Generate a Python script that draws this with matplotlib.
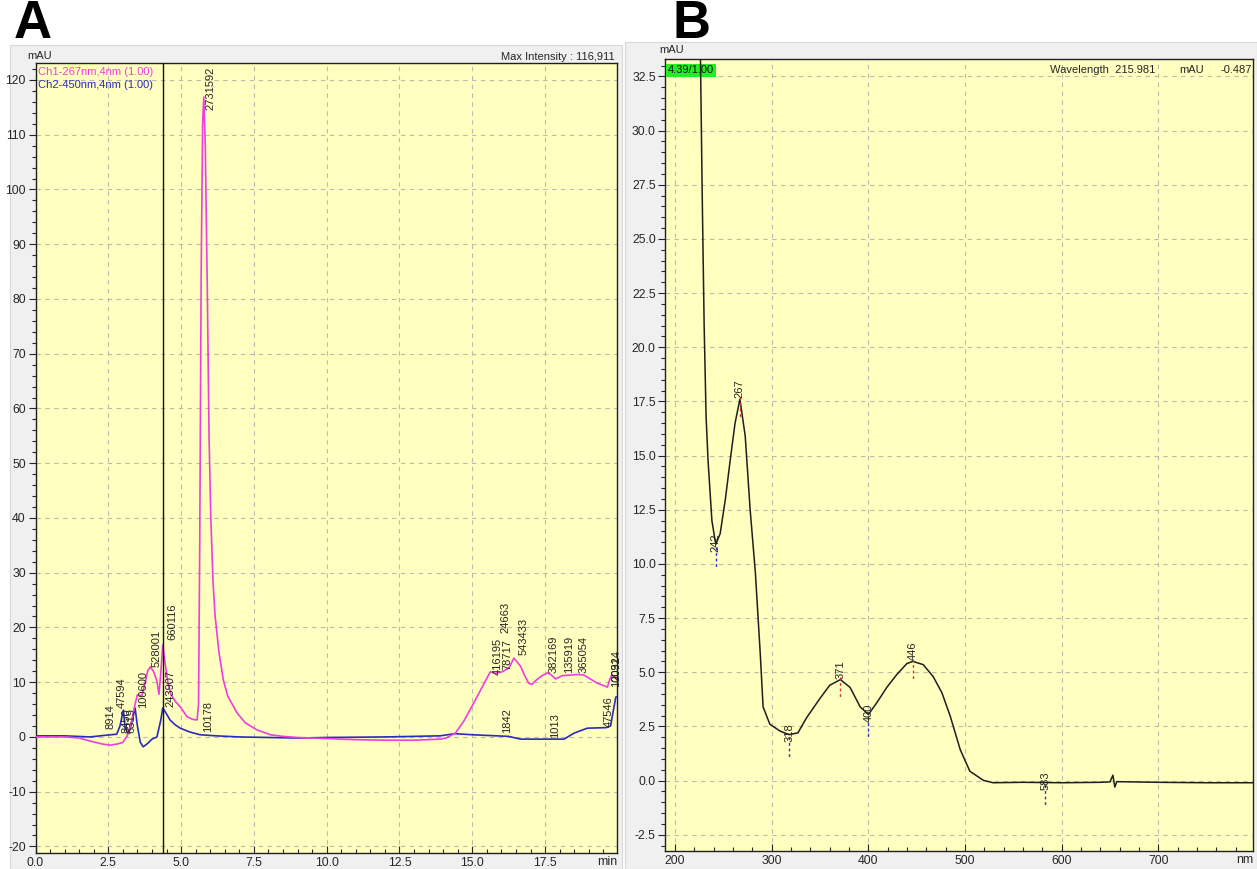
import matplotlib.pyplot as plt
from matplotlib.patches import Rectangle
from matplotlib.ticker import MultipleLocator, FormatStrFormatter
import numpy as np

plt.rcParams['font.family'] = ['Liberation Sans', 'DejaVu Sans']
plt.rcParams['axes.unicode_minus'] = False

W, H = 1257, 869

# --- chromatogram (panel A) ---
ch1_t = [0.0, 1.0, 1.5, 1.9, 2.3, 2.56, 2.8, 3.0, 3.15, 3.31, 3.42, 3.5, 3.65, 3.75, 3.85,
         3.94, 4.05, 4.17, 4.24, 4.3, 4.37, 4.45, 4.55, 4.65, 4.8, 4.97, 5.1, 5.2, 5.4, 5.55,
         5.6, 5.64, 5.69, 5.74, 5.78, 5.83, 5.9, 5.96, 6.02, 6.1, 6.17, 6.3, 6.45, 6.6, 6.92,
         7.2, 7.6, 8.06, 8.5, 9.0, 9.5, 10.0, 11.0, 12.0, 13.0, 13.9, 14.1, 14.42, 14.7, 15.05,
         15.35, 15.62, 15.8, 16.03, 16.26, 16.43, 16.66, 16.8, 16.94, 17.05, 17.2, 17.4, 17.58,
         17.72, 17.86, 18.1, 18.38, 18.6, 18.83, 19.05, 19.3, 19.5, 19.64, 19.72, 19.8, 19.9, 20.0]
ch1_mau = [0.0, 0.0, -0.2, -0.8, -1.3, -1.5, -1.3, -1.0, 0.2, 3.1, 6.0, 7.7, 7.5, 9.5, 12.0,
           12.8, 12.0, 10.2, 7.8, 11.5, 16.8, 13.5, 9.8, 7.8, 6.5, 5.5, 4.5, 3.7, 3.2, 3.1,
           6.0, 35.0, 85.0, 112.0, 116.9, 108.0, 82.0, 55.0, 40.0, 28.0, 22.0, 15.5, 10.4, 7.5, 4.4,
           2.6, 1.3, 0.4, 0.1, -0.1, -0.2, -0.3, -0.5, -0.6, -0.6, -0.4, -0.2, 0.7, 2.8, 6.2,
           9.2, 11.9, 11.6, 11.9, 12.6, 14.4, 12.9, 11.2, 9.8, 9.6, 10.4, 11.2, 11.7,
           11.3, 10.6, 11.2, 11.3, 11.4, 11.3, 10.6, 9.8, 9.4, 9.1, 10.5, 11.4, 10.8, 10.5]

ch2_t = [0.0, 1.0, 1.87, 2.4, 2.79, 2.9, 3.02, 3.08, 3.2, 3.3, 3.42, 3.5, 3.6, 3.7, 3.85,
         4.0, 4.17, 4.3, 4.37, 4.5, 4.62, 4.8, 4.97, 5.3, 5.65, 6.2, 7.0, 8.0, 9.0, 10.0,
         12.0, 13.9, 14.4, 15.0, 16.25, 16.66, 18.15, 18.5, 18.95, 19.6, 19.75, 19.85, 19.93, 20.0]
ch2_mau = [0.2, 0.2, 0.0, 0.3, 0.5, 2.0, 4.9, 1.5, 0.6, 2.5, 5.3, 2.0, -1.0, -1.8, -1.2,
           -0.4, 0.0, 3.0, 5.3, 4.2, 3.1, 2.2, 1.6, 0.9, 0.4, 0.2, 0.0, -0.1, -0.2, -0.1,
           0.0, 0.2, 0.6, 0.4, 0.1, -0.4, -0.4, 0.7, 1.6, 1.7, 2.0, 5.0, 7.3, 7.3]

# peak area labels: (time, base of text, area)
peak_labels = [
    (2.56, 1.5, '8914'), (2.97, 5.3, '47594'), (3.11, 0.7, '8450'), (3.28, 0.8, '6319'),
    (3.70, 5.3, '100600'), (4.17, 12.8, '528001'), (4.70, 17.7, '660116'),
    (4.63, 5.5, '243907'), (5.93, 0.9, '10178'), (6.00, 114.6, '2731592'),
    (15.87, 11.3, '416195'), (16.20, 12.2, '78717'), (16.15, 19.0, '24663'),
    (16.76, 15.0, '543433'), (17.80, 11.7, '382169'), (18.31, 11.7, '135919'),
    (18.83, 11.7, '365054'), (16.20, 0.7, '1842'), (17.86, -0.2, '1013'),
    (19.69, 1.8, '47546'), (19.93, 9.1, '100924'), (19.96, 10.2, '2031'),
]

cursor_time = 4.39

# --- spectrum (panel B) ---
wl_nm = [224, 226, 228, 230, 232, 234, 238, 242, 246.6, 252, 257, 262, 267, 272.5, 277.6,
         283, 288, 291, 298, 308.7, 318, 327, 336, 350, 360, 371, 381, 391.5, 400, 408.8,
         419, 429.5, 439.8, 446, 456.7, 467, 476, 484.7, 495, 505, 519, 529, 560, 600, 640,
         650, 653, 655, 657, 700, 750, 800]
spec_mau = [40, 34, 27, 21, 16.8, 14.8, 12.0, 10.9, 11.4, 13.0, 14.8, 16.5, 17.6, 15.9, 12.5,
            9.6, 5.9, 3.4, 2.6, 2.28, 2.12, 2.2, 2.9, 3.8, 4.4, 4.66, 4.3, 3.4, 3.05, 3.6,
            4.3, 4.9, 5.4, 5.5, 5.35, 4.8, 4.06, 2.97, 1.43, 0.43, 0.01, -0.1, -0.08, -0.1, -0.08,
            -0.06, 0.25, -0.3, -0.05, -0.08, -0.1, -0.1]

spec_peaks = [242, 267, 318, 371, 400, 446, 583]
spec_kind = ['min', 'max', 'min', 'max', 'min', 'max', 'min']

YELLOW = '#ffffc0'
GRID = '#bcbcaa'
GRAY = '#f0f0f0'
TXT = '#262626'


def fx(x):
    return x / W


def fy(y):
    return 1 - y / H


fig = plt.figure(figsize=(W / 100, H / 100), dpi=100)
fig.patch.set_facecolor('white')

# window backgrounds, kept behind the axes
fig.patches.append(Rectangle((fx(10), 0), fx(612), fy(45), transform=fig.transFigure,
                             facecolor=GRAY, edgecolor='#d8d8d8', lw=0.8, zorder=-10))
fig.patches.append(Rectangle((fx(625), 0), fx(632), fy(42), transform=fig.transFigure,
                             facecolor=GRAY, edgecolor='#d8d8d8', lw=0.8, zorder=-10))

fig.text(fx(14), fy(24), 'A', fontsize=38, fontweight='bold', va='center', ha='left')
fig.text(fx(672), fy(24), 'B', fontsize=38, fontweight='bold', va='center', ha='left')


def style_axes(ax):
    ax.set_facecolor(YELLOW)
    for s in ax.spines.values():
        s.set_color('#202020')
        s.set_linewidth(1.0)
    ax.grid(True, which='major', color=GRID, ls=(0, (4, 4)), lw=0.8)
    ax.set_axisbelow(True)
    ax.tick_params(axis='y', which='major', direction='out', length=5, width=0.8,
                   labelsize=8.8, colors=TXT, pad=2)
    ax.tick_params(axis='y', which='minor', direction='out', length=3, width=0.8, colors=TXT)
    ax.tick_params(axis='x', which='major', direction='in', length=5, width=0.8,
                   labelsize=8.8, colors=TXT, pad=3)
    ax.tick_params(axis='x', which='minor', direction='in', length=3, width=0.8, colors=TXT)


# ---------------- panel A ----------------
axa = fig.add_axes([fx(35.5), fy(853), fx(617 - 35.5), (853 - 63) / H])
style_axes(axa)
axa.set_xlim(0, 19.97)
axa.set_ylim(-21.2, 123.1)
axa.xaxis.set_major_locator(MultipleLocator(2.5))
axa.xaxis.set_minor_locator(MultipleLocator(0.5))
axa.xaxis.set_major_formatter(FormatStrFormatter('%.1f'))
axa.yaxis.set_major_locator(MultipleLocator(10))
axa.yaxis.set_minor_locator(MultipleLocator(2))

axa.plot(ch2_t, ch2_mau, color='#2b2bbd', lw=1.2, zorder=3)
axa.plot(ch1_t, ch1_mau, color='#ee3ee0', lw=1.2, zorder=3)
axa.axvline(cursor_time, color='#111111', lw=1.0, zorder=4)

for t, yb, s in peak_labels:
    axa.text(t, yb, s, rotation=90, ha='center', va='bottom', fontsize=8,
             color=TXT, zorder=5)

axa.text(0.004, 0.995, 'Ch1-267nm,4nm (1.00)', transform=axa.transAxes, color='#ee3ee0',
         fontsize=8, ha='left', va='top')
axa.text(0.004, 0.978, 'Ch2-450nm,4nm (1.00)', transform=axa.transAxes, color='#2b2bbd',
         fontsize=8, ha='left', va='top')

fig.text(fx(615), fy(57), 'Max Intensity : 116,911', fontsize=8, ha='right', va='center',
         color=TXT)
fig.text(fx(40), fy(56), 'mAU', fontsize=8, ha='center', va='center', color=TXT)
fig.text(fx(617), fy(862), 'min', fontsize=8.8, ha='right', va='center', color=TXT)

# ---------------- panel B ----------------
axb = fig.add_axes([fx(665.5), fy(851), fx(1253 - 665.5), (851 - 59) / H])
style_axes(axb)
axb.set_xlim(190, 798)
axb.set_ylim(-3.25, 33.3)
axb.xaxis.set_major_locator(MultipleLocator(100))
axb.xaxis.set_minor_locator(MultipleLocator(20))
axb.yaxis.set_major_locator(MultipleLocator(2.5))
axb.yaxis.set_minor_locator(MultipleLocator(0.5))
axb.yaxis.set_major_formatter(FormatStrFormatter('%.1f'))

axb.plot(wl_nm, spec_mau, color='#1e1e1e', lw=1.1, zorder=4)

for nm, kind in zip(spec_peaks, spec_kind):
    v = np.interp(nm, wl_nm, spec_mau)
    if kind == 'max':
        axb.plot([nm, nm], [v + 0.1, v - 0.8], color='#e03030', ls=(0, (2, 2)), lw=1.0, zorder=5)
        axb.text(nm, v + 0.05, str(nm), rotation=90, ha='center', va='bottom',
                 fontsize=8, color=TXT, zorder=6)
    else:
        axb.plot([nm, nm], [v - 0.1, v - 1.1], color='#3030d0', ls=(0, (2, 2)), lw=1.0, zorder=5)
        axb.text(nm, v - 0.35, str(nm), rotation=90, ha='center', va='bottom',
                 fontsize=8, color=TXT, zorder=6)

# cursor box and readout
axb.text(0.004, 0.992, '4.39/1.00', transform=axb.transAxes, fontsize=8, ha='left', va='top',
         color='#111111', zorder=3,
         bbox=dict(boxstyle='square,pad=0.15', facecolor='#22ee22', edgecolor='none'))
axb.text(0.655, 0.992, 'Wavelength  215.981', transform=axb.transAxes, fontsize=8,
         ha='left', va='top', color=TXT)
axb.text(0.875, 0.992, 'mAU', transform=axb.transAxes, fontsize=8, ha='left', va='top',
         color=TXT)
axb.text(0.998, 0.992, '-0.487', transform=axb.transAxes, fontsize=8, ha='right', va='top',
         color=TXT)

fig.text(fx(672), fy(50), 'mAU', fontsize=8, ha='center', va='center', color=TXT)
fig.text(fx(1253), fy(860), 'nm', fontsize=8.8, ha='right', va='center', color=TXT)

fig.savefig('out.png', dpi=100)
